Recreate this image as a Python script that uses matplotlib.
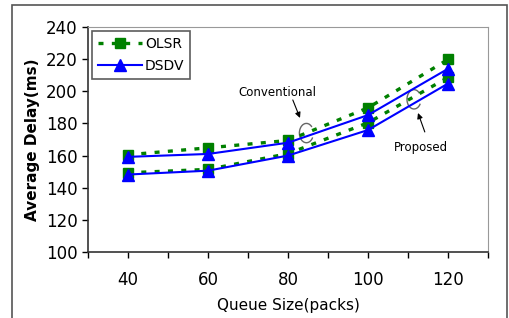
import matplotlib.pyplot as plt
from matplotlib.patches import Rectangle, Arc

# data
queue = [40, 60, 80, 100, 120]
olsr_conv = [160.5, 164.8, 169.4, 189.7, 219.8]
dsdv_conv = [159.2, 161.0, 168.0, 185.2, 214.0]
olsr_prop = [149.3, 151.4, 161.2, 180.4, 208.6]
dsdv_prop = [148.2, 150.6, 160.0, 175.9, 204.8]

green = "#008000"
blue = "#0000ff"

fig = plt.figure(figsize=(5.10, 3.18), dpi=100)
ax = fig.add_axes([88 / 510, 66 / 318, 400 / 510, 225 / 318])

# outer frame around the whole chart
fig.patches.append(Rectangle((12 / 510, -0.1), 495 / 510, 1.1 - 5 / 318,
                             transform=fig.transFigure, fill=False,
                             edgecolor="#555555", lw=1.2))

olsr_style = dict(color=green, linestyle=(0, (1.5, 2.5)), lw=2.4,
                  marker="s", markersize=7, markeredgecolor=green)
dsdv_style = dict(color=blue, linestyle="-", lw=1.5,
                  marker="^", markersize=8, markeredgecolor=blue)

ax.plot(queue, olsr_conv, label="OLSR", **olsr_style)
ax.plot(queue, olsr_prop, **olsr_style)
ax.plot(queue, dsdv_conv, label="DSDV", **dsdv_style)
ax.plot(queue, dsdv_prop, **dsdv_style)

ax.set_xlim(30, 130)
ax.set_ylim(100, 240)
ax.set_xticks(queue)
ax.set_xticks(range(30, 131, 10), minor=True)
ax.set_yticks(range(100, 241, 20))
ax.tick_params(axis="both", labelsize=12, direction="out", length=4, width=1)
ax.tick_params(axis="x", which="minor", length=4, width=1)
ax.tick_params(axis="x", pad=10)
for s in ["top", "right"]:
    ax.spines[s].set_color("#999999")
for s in ["left", "bottom"]:
    ax.spines[s].set_color("#333333")
    ax.spines[s].set_linewidth(1.2)

ax.set_xlabel("Queue Size(packs)", fontsize=11, labelpad=6)
ax.set_ylabel("Average Delay(ms)", fontsize=11, fontweight="bold", labelpad=4)

# annotations
ax.text(77.3, 199.5, "Conventional", fontsize=8.5, ha="center", va="center")
ax.annotate("", xy=(83, 183.4), xytext=(81.2, 194.6),
            arrowprops=dict(arrowstyle="-|>", color="black", lw=0.8,
                            shrinkA=0, shrinkB=0, mutation_scale=8))
ax.add_patch(Arc((84.6, 174), 3.5, 12, theta1=70, theta2=300,
                 color="#666666", lw=1))
ax.text(113.3, 165.3, "Proposed", fontsize=8.5, ha="center", va="center")
ax.annotate("", xy=(112.5, 186.5), xytext=(114.2, 174.7),
            arrowprops=dict(arrowstyle="-|>", color="black", lw=0.8,
                            shrinkA=0, shrinkB=0, mutation_scale=8))
ax.add_patch(Arc((111.5, 195), 3.5, 12, theta1=70, theta2=300,
                 color="#666666", lw=1))

leg = ax.legend(loc="upper left", fontsize=10, frameon=True, fancybox=False,
                edgecolor="#333333", handlelength=3.2, borderaxespad=0.3,
                handletextpad=0.2, labelspacing=0.6)
leg.get_frame().set_linewidth(1.2)

fig.savefig("out.png", dpi=100)
